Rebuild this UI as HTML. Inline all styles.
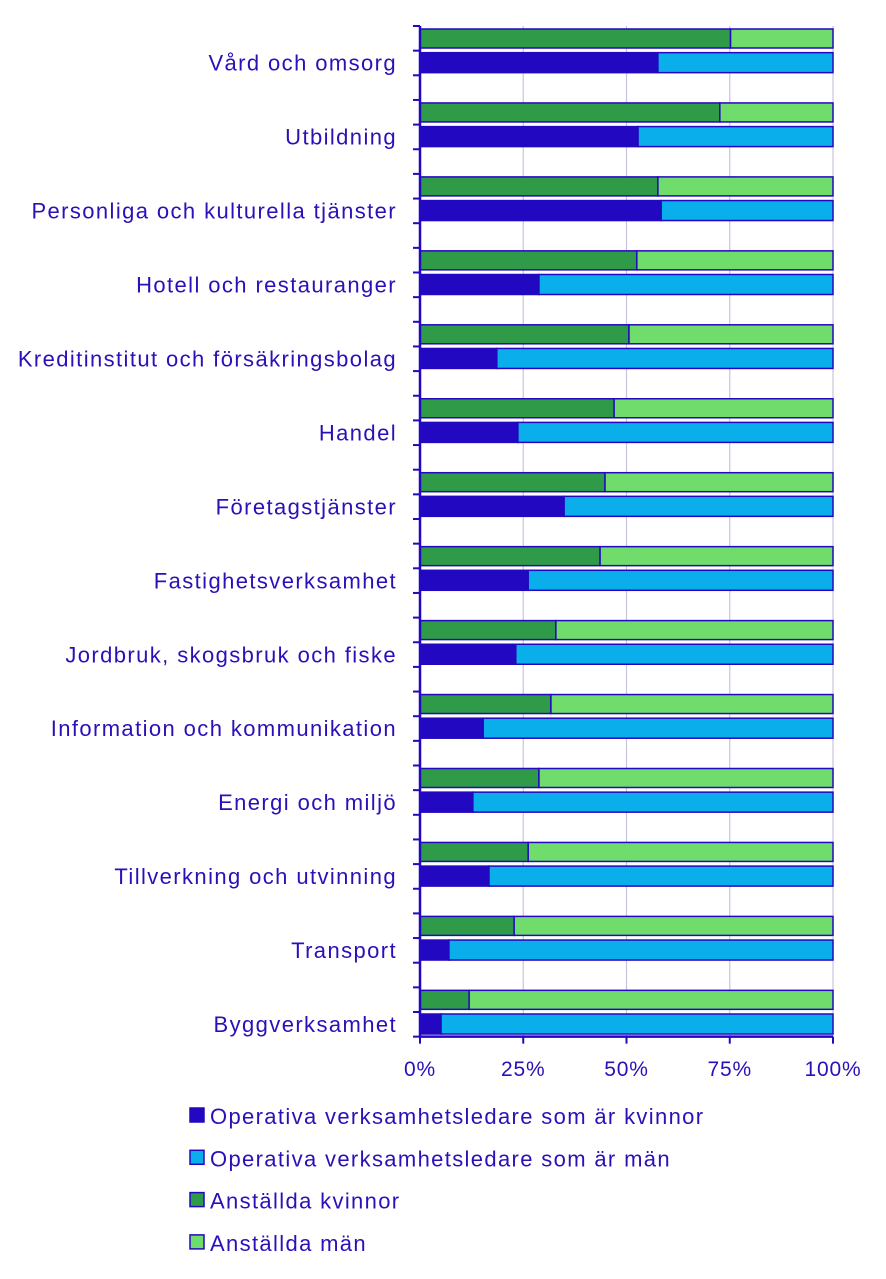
<!DOCTYPE html>
<html><head><meta charset="utf-8">
<style>
body{margin:0;background:#fff;font-family:"Liberation Sans",sans-serif;}
svg text{font-family:"Liberation Sans",sans-serif;fill:#2a10b8;}
</style></head>
<body>
<svg id="chart" width="886" height="1274"></svg>
<script>
const categories=["Vård och omsorg","Utbildning","Personliga och kulturella tjänster","Hotell och restauranger","Kreditinstitut och försäkringsbolag","Handel","Företagstjänster","Fastighetsverksamhet","Jordbruk, skogsbruk och fiske","Information och kommunikation","Energi och miljö","Tillverkning och utvinning","Transport","Byggverksamhet"];
const womenEmployees=[75.2,72.6,57.6,52.5,50.6,47.0,44.8,43.6,32.9,31.7,28.8,26.2,22.8,11.9];
const womenLeaders=[57.6,52.8,58.4,28.8,18.6,23.7,34.9,26.2,23.2,15.3,12.8,16.7,7.0,5.1];
const tickLabels=["0%","25%","50%","75%","100%"];
const tickValues=[0,25,50,75,100];
const legendLabels=["Operativa verksamhetsledare som är kvinnor","Operativa verksamhetsledare som är män","Anställda kvinnor","Anställda män"];
const colors={wl:"#2208c0",ml:"#0aaeea",we:"#2f9a48",me:"#6fdc6c",edge:"#2208c0"};

const svg=document.getElementById('chart');
const NS="http://www.w3.org/2000/svg";
const X0=420,X1=833,T=26,S=24.65;
const x=v=>X0+(X1-X0)*v/100;
function el(tag,attrs,parent){const e=document.createElementNS(NS,tag);for(const k in attrs)e.setAttribute(k,attrs[k]);(parent||svg).appendChild(e);return e;}
const nSlots=categories.length*3-1;
const bottom=T+nSlots*S;
tickValues.forEach((v,i)=>{
  if(v>0){const g=el('line',{x1:x(v),x2:x(v),y1:T,y2:bottom,stroke:"#c8c4e0","stroke-width":1.2});
  
  }
  const t=el('text',{x:x(v),y:1076,"text-anchor":"middle","font-size":21,"letter-spacing":0.8});
  t.textContent=tickLabels[i];
  
  
});
function bar(x1,x2,y,h,fill,name){
  const r=el('rect',{x:x1,y:y,width:x2-x1,height:h,fill:fill,stroke:colors.edge,"stroke-width":1.5});
  
  
}
categories.forEach((c,i)=>{
  const gy=T+3*S*i;
  const gy1=gy+3, by=gy+S+2;
  bar(x(0),x(womenEmployees[i]),gy1,19,colors.we,'bar-employees-women');
  bar(x(womenEmployees[i]),x(100),gy1,19,colors.me,'bar-employees-men');
  bar(x(0),x(womenLeaders[i]),by,20,colors.wl,'bar-leaders-women');
  bar(x(womenLeaders[i]),x(100),by,20,colors.ml,'bar-leaders-men');
  const t=el('text',{x:397,y:by+18,"text-anchor":"end","font-size":22,"letter-spacing":1.4});
  t.textContent=c;
  
  
});
for(let k=0;k<=nSlots;k++){
  const tk=el('line',{x1:413,x2:X0,y1:T+k*S,y2:T+k*S,stroke:colors.edge,"stroke-width":2});
  
  
}
const ax=el('line',{x1:X0,x2:X0,y1:T,y2:bottom+1,stroke:colors.edge,"stroke-width":2.5});


const xa=el('line',{x1:X0,x2:X1,y1:bottom,y2:bottom,stroke:colors.edge,"stroke-width":2.5});


tickValues.forEach(v=>{
  const t=el('line',{x1:x(v),x2:x(v),y1:bottom,y2:bottom+7,stroke:colors.edge,"stroke-width":2});
  
  
});
const lc=[colors.wl,colors.ml,colors.we,colors.me];
legendLabels.forEach((l,i)=>{
  const y=1116+i*42.3;
  const r=el('rect',{x:190,y:y-8,width:14,height:14,fill:lc[i],stroke:colors.edge,"stroke-width":1.5});
  
  
  const t=el('text',{x:210,y:y+8,"font-size":22,"letter-spacing":1.35});
  t.textContent=l;
  
  
});
</script>
</body></html>
